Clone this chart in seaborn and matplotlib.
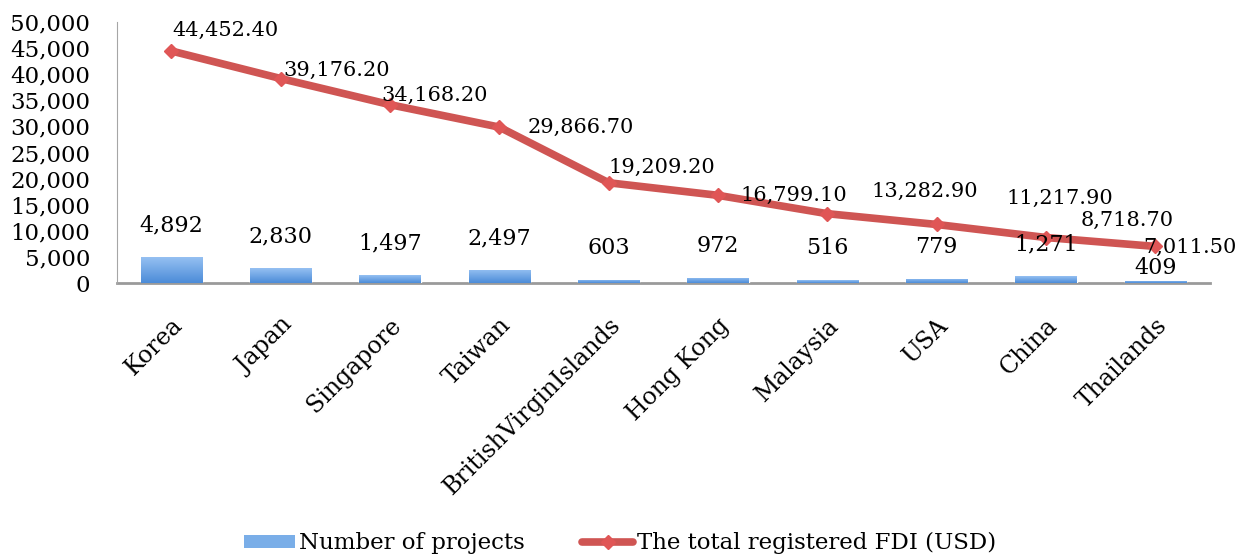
import numpy as np
import pandas as pd
import seaborn as sns
import matplotlib.pyplot as plt
from matplotlib.colors import LinearSegmentedColormap
from matplotlib.lines import Line2D
from matplotlib.patches import Patch


countries = ['Korea', 'Japan', 'Singapore', 'Taiwan', 'BritishVirginIslands',
             'Hong Kong', 'Malaysia', 'USA', 'China', 'Thailands']
projects = [4892, 2830, 1497, 2497, 603, 972, 516, 779, 1271, 409]
fdi = [44452.40, 39176.20, 34168.20, 29866.70, 19209.20, 16799.10,
       13282.90, 11217.90, 8718.70, 7011.50]
y_ticks = list(range(0, 50001, 5000))

# label placement (offset points from the marker / bar top)
fdi_label_offsets = [(1, 15), (2, 6), (-6, 7), (20, 0), (0, 11), (16, 0),
                     (32, 16), (50, 19), (25, 12), (-9, -1)]
bar_label_offsets = [23, 23, 23, 23, 23, 23, 23, 23, 23, 9]

BAR_TOP = '#95c0f2'
BAR_BOTTOM = '#4c8cd8'
LINE_COLOR = '#cf5553'
FONT = ['DejaVu Serif']


def main():
    sns.set_style('white')
    plt.rcParams['font.family'] = FONT
    plt.rcParams['text.color'] = 'black'

    fig = plt.figure(figsize=(12.41, 5.6), dpi=100)
    ax = fig.add_axes([0.094, 0.4946, 0.881, 0.4661])

    df = pd.DataFrame({'country': countries, 'projects': projects, 'fdi': fdi})

    sns.barplot(data=df, x='country', y='projects', color=BAR_BOTTOM,
                width=0.56, ax=ax, zorder=2)

    # vertical gradient on each bar
    cmap = LinearSegmentedColormap.from_list('bar', [BAR_BOTTOM, BAR_TOP])
    grad = np.linspace(0, 1, 64).reshape(-1, 1)
    for patch in ax.patches:
        x0, y0 = patch.get_x(), patch.get_y()
        w, h = patch.get_width(), patch.get_height()
        im = ax.imshow(grad, cmap=cmap, aspect='auto', origin='lower',
                       extent=[x0, x0 + w, y0, y0 + h], zorder=2.5)
        im.set_clip_path(patch)

    ax.plot(range(len(countries)), fdi, color=LINE_COLOR, linewidth=5.5,
            marker='D', markersize=7, markerfacecolor='#e05656',
            markeredgecolor='#e05656', zorder=3, solid_capstyle='round')

    for i, v in enumerate(projects):
        ax.annotate('{:,}'.format(v), (i, v), xytext=(0, bar_label_offsets[i]),
                    textcoords='offset points', ha='center', va='center',
                    fontsize=16, color='black', zorder=4)

    for i, v in enumerate(fdi):
        dx, dy = fdi_label_offsets[i]
        ax.annotate('{:,.2f}'.format(v), (i, v), xytext=(dx, dy),
                    textcoords='offset points', ha='left', va='center',
                    fontsize=15, color='black', zorder=4)

    ax.set_xlim(-0.5, len(countries) - 0.5)
    ax.set_ylim(0, 50000)
    ax.set_yticks(y_ticks)
    ax.set_yticklabels(['{:,}'.format(t) for t in y_ticks], fontsize=16.5)
    ax.tick_params(axis='y', length=0, pad=19, labelcolor='black')
    ax.tick_params(axis='x', length=0, pad=22, labelcolor='black')
    ax.set_xticks(range(len(countries)))
    ax.set_xticklabels(countries, rotation=45, ha='right',
                       rotation_mode='anchor', fontsize=17)
    ax.set_xlabel('')
    ax.set_ylabel('')

    sns.despine(ax=ax, top=True, right=True)
    ax.spines['left'].set_color('#a6a6a6')
    ax.spines['bottom'].set_color('#9a9a9a')
    ax.spines['bottom'].set_linewidth(2)
    ax.spines['bottom'].set_zorder(1)

    handles = [
        Patch(facecolor='#7aaee8', edgecolor='none', label='Number of projects'),
        Line2D([0], [0], color=LINE_COLOR, linewidth=5.5, marker='D',
               markersize=7, markerfacecolor='#e05656',
               markeredgecolor='#e05656', label='The total registered FDI (USD)'),
    ]
    fig.legend(handles=handles, loc='center', bbox_to_anchor=(0.5, 0.03),
               ncol=2, frameon=False, fontsize=16.5, handlelength=2.2,
               handleheight=0.5, handletextpad=0.2, columnspacing=2.5)

    fig.savefig('out.png', dpi=100)


if __name__ == '__main__':
    main()
